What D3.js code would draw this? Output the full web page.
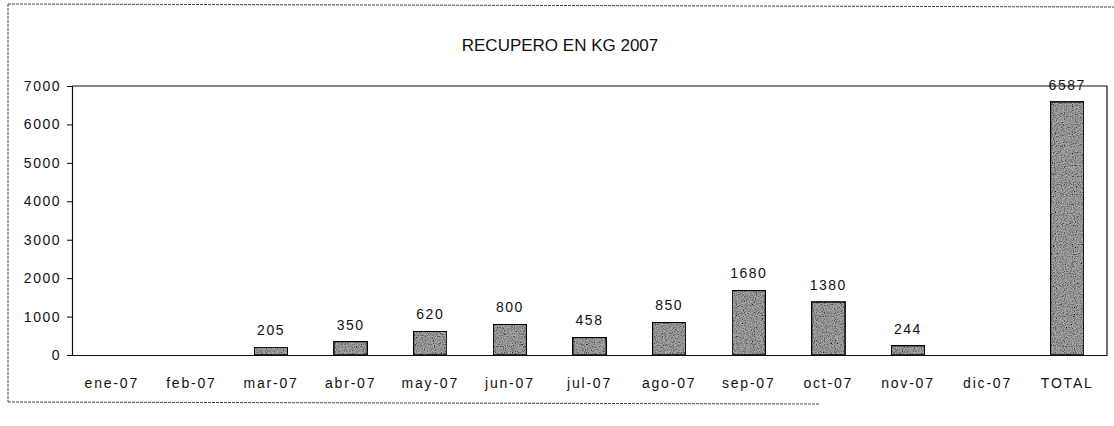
<!DOCTYPE html>
<html>
<head>
<meta charset="utf-8">
<script src="https://cdn.jsdelivr.net/npm/d3@7"></script>
<style>
  body { margin: 0; background: #fff; }
  svg { display: block; font-family: "Liberation Sans", Arial, sans-serif; }
</style>
</head>
<body>
<svg id="chart"></svg>
<script>
// data
var months = ["ene-07", "feb-07", "mar-07", "abr-07", "may-07", "jun-07", "jul-07",
              "ago-07", "sep-07", "oct-07", "nov-07", "dic-07", "TOTAL"];
var kg = [null, null, 205, 350, 620, 800, 458, 850, 1680, 1380, 244, null, 6587];
var yTicks = [0, 1000, 2000, 3000, 4000, 5000, 6000, 7000];
var title = "RECUPERO EN KG 2007";

var width = 1114, height = 426;
var margin = {top: 86, right: 7, bottom: 71, left: 72};

var svg = d3.select("#chart")
    .attr("width", width)
    .attr("height", height);

// grainy grey fill like the photocopied bars
var defs = svg.append("defs");
var filt = defs.append("filter").attr("id", "grain")
    .attr("x", 0).attr("y", 0).attr("width", 1).attr("height", 1);
filt.append("feTurbulence")
    .attr("type", "fractalNoise")
    .attr("baseFrequency", 0.9)
    .attr("numOctaves", 2)
    .attr("seed", 3)
    .attr("result", "noise");
filt.append("feColorMatrix")
    .attr("in", "noise")
    .attr("type", "matrix")
    .attr("values", "0 0 0 0 0  0 0 0 0 0  0 0 0 0 0  0 0 0 -2.2 1.35")
    .attr("result", "dots");
filt.append("feComposite")
    .attr("in", "dots").attr("in2", "SourceGraphic").attr("operator", "in")
    .attr("result", "dotsClip");
filt.append("feMerge").selectAll("feMergeNode")
    .data(["SourceGraphic", "dotsClip"])
    .enter().append("feMergeNode").attr("in", function(d) { return d; });

// outer frame of the scanned sheet
svg.append("path")
    .attr("d", "M8,4 L1114,7 M8,4 L8,402 M8,402 L820,404")
    .attr("fill", "none")
    .attr("stroke", "#444")
    .attr("stroke-width", 1)
    .attr("stroke-dasharray", "3,1");

svg.append("text")
    .attr("x", 560).attr("y", 51)
    .attr("text-anchor", "middle")
    .style("font-size", "17px")
    .attr("fill", "#111")
    .text(title);

var x = d3.scaleBand()
    .domain(months)
    .range([margin.left, width - margin.right])
    .paddingInner(0.58)
    .paddingOuter(0.29);

var y = d3.scaleLinear()
    .domain([0, 7000])
    .range([height - margin.bottom, margin.top]);

// plot frame (top and right)
svg.append("path")
    .attr("d", "M" + margin.left + "," + y(7000) + " L" + (width - margin.right) + "," + y(7000) +
               " L" + (width - margin.right) + "," + y(0))
    .attr("fill", "none")
    .attr("stroke", "#111")
    .attr("stroke-width", 1.2);

var yAxis = svg.append("g")
    .attr("transform", "translate(" + margin.left + ",0)")
    .call(d3.axisLeft(y).tickValues(yTicks).tickFormat(d3.format("d")).tickSize(5).tickPadding(6));
yAxis.select(".domain").attr("stroke", "#111").attr("stroke-width", 1.2);
yAxis.selectAll("text")
    .style("font-size", "14px")
    .style("letter-spacing", "1.5px")
    .attr("fill", "#111");

var xAxis = svg.append("g")
    .attr("transform", "translate(0," + y(0) + ")")
    .call(d3.axisBottom(x).tickSize(0).tickPadding(23));
xAxis.select(".domain").attr("stroke", "#111").attr("stroke-width", 1.2);
xAxis.selectAll("text")
    .style("font-size", "14px")
    .style("letter-spacing", "1.8px")
    .attr("fill", "#111");

var rows = months.map(function(m, i) { return {label: m, value: kg[i]}; })
    .filter(function(d) { return d.value != null; });

svg.append("g").selectAll("rect")
    .data(rows)
    .enter().append("rect")
    .attr("x", function(d) { return x(d.label); })
    .attr("y", function(d) { return y(d.value); })
    .attr("width", x.bandwidth())
    .attr("height", function(d) { return y(0) - y(d.value); })
    .attr("fill", "#a8a8a8")
    .attr("stroke", "#111")
    .attr("stroke-width", 1.5)
    .attr("filter", "url(#grain)");

svg.append("g").selectAll("text")
    .data(rows)
    .enter().append("text")
    .attr("x", function(d) { return x(d.label) + x.bandwidth() / 2; })
    .attr("y", function(d) { return y(d.value) - 12; })
    .attr("text-anchor", "middle")
    .style("font-size", "14px")
    .style("letter-spacing", "1.5px")
    .attr("fill", "#111")
    .text(function(d) { return d.value; });
</script>
</body>
</html>
